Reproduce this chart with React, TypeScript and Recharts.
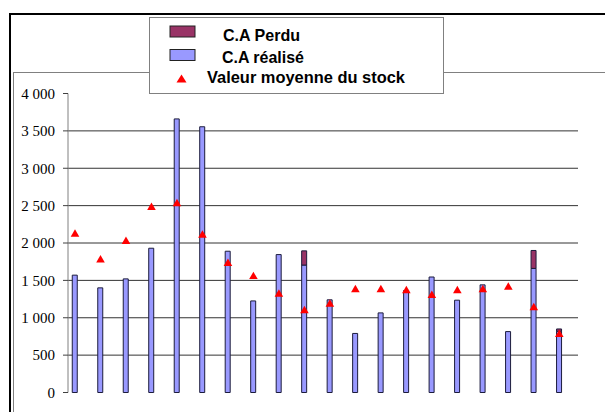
import { Bar, CartesianGrid, ComposedChart, Scatter, XAxis, YAxis, ZAxis } from "recharts";

// 20 periods
const periods = [1, 2, 3, 4, 5, 6, 7, 8, 9, 10, 11, 12, 13, 14, 15, 16, 17, 18, 19, 20];
const caRealise = [1570, 1400, 1520, 1930, 3660, 3555, 1890, 1225, 1845, 1705, 1240, 790, 1065, 1365, 1545, 1235, 1440, 815, 1660, 820];
const caPerdu = [0, 0, 0, 0, 0, 0, 0, 0, 0, 190, 0, 0, 0, 0, 0, 0, 0, 0, 240, 30];
const stockMoyen = [2117, 1773, 2019, 2476, 2524, 2105, 1725, 1550, 1315, 1095, 1180, 1375, 1374, 1362, 1297, 1361, 1374, 1408, 1135, 777];
const yTicks = [0, 500, 1000, 1500, 2000, 2500, 3000, 3500, 4000];
const gridValues = [500, 1000, 1500, 2000, 2500, 3000, 3500];

const data = periods.map((p, i) => ({
  x: i,
  period: p,
  realise: caRealise[i],
  perdu: caPerdu[i],
  stock: stockMoyen[i],
}));

const fmt = (v: number) =>
  v >= 1000 ? `${Math.floor(v / 1000)} ${String(v % 1000).padStart(3, "0")}` : `${v}`;

const LegendBox = () => (
  <div
    style={{
      position: "absolute",
      left: 141,
      top: 9,
      width: 293,
      height: 75,
      border: "1px solid #808080",
      background: "#fff",
    }}
  >
    <svg width={293} height={75} style={{ display: "block" }}>
      <rect x={20} y={8} width={25} height={11} fill="#993366" stroke="#222" />
      <rect x={20} y={31.5} width={25} height={11} fill="#9999FF" stroke="#222" />
      <polygon points="26.5,64.5 36.5,64.5 31.5,56.5" fill="#FF0000" />
      <g fontFamily="'Liberation Sans', Arial, sans-serif" fontWeight="bold" fontSize={17} fill="#000">
        <text x={73} y={22.5} textLength={77} lengthAdjust="spacingAndGlyphs">C.A Perdu</text>
        <text x={72} y={45} textLength={82} lengthAdjust="spacingAndGlyphs">C.A réalisé</text>
        <text x={57} y={64.5} textLength={198} lengthAdjust="spacingAndGlyphs">Valeur moyenne du stock</text>
      </g>
    </svg>
  </div>
);

export default function App() {
  return (
    <div
      style={{
        position: "absolute",
        left: 8,
        top: 8,
        width: 597,
        height: 404,
        overflow: "hidden",
        background: "#fff",
      }}
    >
      <div
        style={{
          position: "absolute",
          left: 1,
          top: 5,
          width: 700,
          height: 500,
          borderLeft: "2px solid #000",
          borderTop: "2px solid #000",
        }}
      />
      <div
        style={{
          position: "absolute",
          left: 5,
          top: 64,
          width: 700,
          height: 500,
          borderLeft: "1px solid #808080",
          borderTop: "1px solid #808080",
        }}
      />
      <div style={{ position: "absolute", left: 0, top: 0 }}>
        <ComposedChart
          width={597}
          height={404}
          data={data}
          margin={{ top: 85.5, right: 27, bottom: 19.5, left: 0 }}
        >
          <CartesianGrid vertical={false} horizontalValues={gridValues} stroke="#333" />
          <XAxis type="number" dataKey="x" domain={[-0.275, 19.734]} hide />
          <YAxis
            width={60}
            domain={[0, 4000]}
            ticks={yTicks}
            interval={0}
            tickFormatter={fmt}
            axisLine={{ stroke: "#808080" }}
            tickLine={{ stroke: "#404040" }}
            tickSize={5}
            tickMargin={8}
            tick={{ fontFamily: "'Liberation Serif', 'Times New Roman', serif", fontSize: 15, fill: "#000" }}
          />
          <ZAxis type="number" range={[32, 32]} />
          <Bar dataKey="realise" stackId="ca" barSize={5} fill="#9999FF" stroke="#1c1c3c" strokeWidth={1} isAnimationActive={false} />
          <Bar dataKey="perdu" stackId="ca" barSize={5} fill="#993366" stroke="#1c1c3c" strokeWidth={1} isAnimationActive={false} />
          <Scatter dataKey="stock" shape="triangle" fill="#FF0000" isAnimationActive={false} />
        </ComposedChart>
      </div>
      <LegendBox />
    </div>
  );
}
